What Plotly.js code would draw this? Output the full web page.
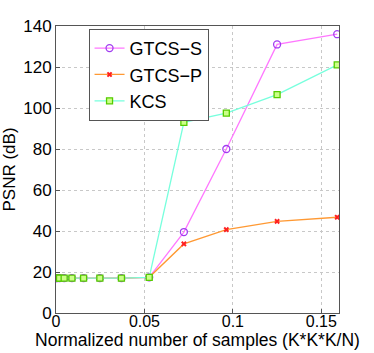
<!DOCTYPE html>
<html><head><meta charset="utf-8">
<script src="https://cdn.plot.ly/plotly-3.0.1.min.js"></script>
<style>html,body{margin:0;padding:0;background:#fff}#c{width:374px;height:353px}</style>
</head><body><div id="c"></div>
<script>
const xs = [0.0001, 0.0006, 0.002, 0.0046, 0.009, 0.0156, 0.0248, 0.037, 0.0527, 0.0723, 0.0963, 0.125, 0.159];
const gtcsS = [17, 17, 17, 17, 17, 17, 17, 17, 17.4, 39.5, 80, 131, 136];
const gtcsP = [17, 17, 17, 17, 17, 17, 17, 17, 17.4, 33.7, 40.7, 44.7, 46.7];
const kcs   = [17, 17, 17, 17, 17, 17, 17, 17, 17.4, 93, 97.5, 106.5, 121];
const names = ['GTCS\u2212S', 'GTCS\u2212P', 'KCS'];
const xTicks = [0, 0.05, 0.1, 0.15];
const xTickText = ['0', '0.05', '0.1', '0.15'];
const yTicks = [0, 20, 40, 60, 80, 100, 120, 140];

const FONT = 'Liberation Sans, Arial, sans-serif';
const traces = [
  {x: xs, y: gtcsS, name: names[0], mode: 'lines+markers',
   line: {color: '#ff77ff', width: 1.3},
   marker: {symbol: 'circle-open', size: 7, color: '#a03cf0', line: {width: 1.3}}},
  {x: xs, y: gtcsP, name: names[1], mode: 'lines+markers',
   line: {color: '#ff9933', width: 1.3},
   marker: {symbol: 'x', size: 5, color: '#ff2020', line: {width: 0}}},
  {x: xs, y: kcs, name: names[2], mode: 'lines+markers',
   line: {color: '#77ffdd', width: 1.3},
   marker: {symbol: 'square', size: 6, color: '#ccff88', line: {color: '#55cc00', width: 1.3}}}
];
const axisCommon = {
  showline: true, mirror: true, linecolor: '#555', linewidth: 1,
  ticks: 'inside', ticklen: 4, tickcolor: '#555',
  showgrid: true, gridcolor: '#c8c8c8', griddash: 'dot', gridwidth: 1,
  zeroline: false, tickfont: {family: FONT, size: 17, color: '#000'}
};
const layout = {
  width: 374, height: 353,
  margin: {l: 56, r: 35, t: 26, b: 40},
  paper_bgcolor: '#fff', plot_bgcolor: '#fff',
  showlegend: true,
  legend: {x: 0.115, y: 0.99, xanchor: 'left', yanchor: 'top',
    bgcolor: '#fff', bordercolor: '#555', borderwidth: 1,
    font: {family: FONT, size: 18, color: '#000'},
    itemwidth: 30, tracegroupgap: 0},
  xaxis: Object.assign({}, axisCommon, {range: [0, 0.16], tickvals: xTicks, ticktext: xTickText,
    tickfont: {family: FONT, size: 16, color: '#000'},
    ticklabelstandoff: -6,
    title: {text: 'Normalized number of samples (K*K*K/N)', standoff: 0,
      font: {family: FONT, size: 17.5, color: '#000'}}}),
  yaxis: Object.assign({}, axisCommon, {range: [0, 140], tickvals: yTicks,
    title: {text: 'PSNR (dB)', standoff: 4,
      font: {family: FONT, size: 17, color: '#000'}}})
};
Plotly.newPlot('c', traces, layout, {displayModeBar: false, staticPlot: true});
</script></body></html>
